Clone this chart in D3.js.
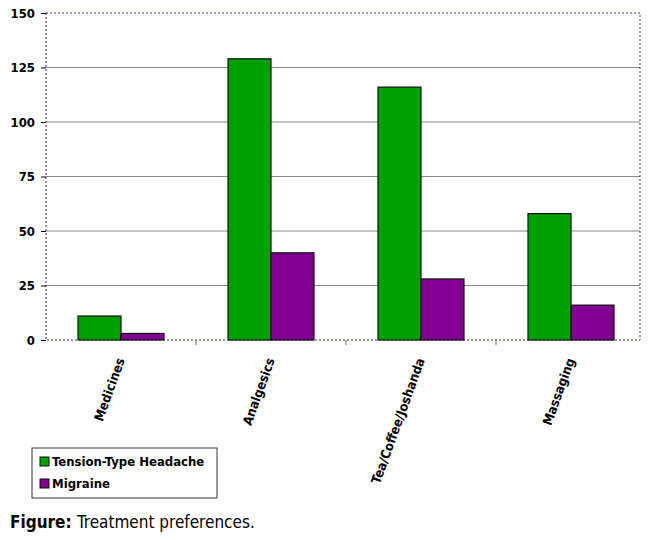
<!DOCTYPE html>
<html><head><meta charset="utf-8">
<script src="https://cdn.jsdelivr.net/npm/d3@7"></script>
<style>body{margin:0;background:#fff}</style>
</head><body>
<script>
const categories = ["Medicines", "Analgesics", "Tea/Coffee/Joshanda", "Massaging"];
const seriesNames = ["Tension-Type Headache", "Migraine"];
const tensionValues = [11, 129, 116, 58];
const migraineValues = [3, 40, 28, 16];
const yTicks = [0, 25, 50, 75, 100, 125, 150];
const colors = ["#00a000", "#800090"];

const svg = d3.select("body").append("svg").attr("width", 650).attr("height", 540);
const plotLeft = 46, plotRight = 640, plotTop = 13, plotBottom = 340;

const x = d3.scaleBand().domain(categories).range([plotLeft, plotLeft + 600]);
const xs = d3.scaleBand().domain(seriesNames).range([32, 118]);
const y = d3.scaleLinear().domain([0, 150]).range([plotBottom, plotTop]);
const font = "'DejaVu Sans Condensed', 'DejaVu Sans', sans-serif";

// gridlines
svg.append("g").selectAll("line").data(yTicks.slice(1, -1)).enter().append("line")
    .attr("x1", plotLeft).attr("x2", plotRight)
    .attr("y1", d => y(d)).attr("y2", d => y(d))
    .attr("stroke", "#888").attr("stroke-width", 1.2);

// frame
svg.append("rect").attr("x", plotLeft).attr("y", plotTop)
    .attr("width", plotRight - plotLeft).attr("height", plotBottom - plotTop)
    .attr("fill", "none").attr("stroke", "#3030a0").attr("stroke-dasharray", "2,2");

// y axis
const yAxis = svg.append("g").attr("transform", "translate(" + plotLeft + ",0)")
    .call(d3.axisLeft(y).tickValues(yTicks).tickSize(5).tickPadding(6));
yAxis.select(".domain").remove();
yAxis.selectAll("text").style("font-family", font).style("font-weight", "bold").style("font-size", "13px");

// category boundary ticks
svg.append("g").selectAll("line").data(categories.slice(1)).enter().append("line")
    .attr("x1", d => x(d)).attr("x2", d => x(d))
    .attr("y1", plotBottom).attr("y2", plotBottom + 5).attr("stroke", "#666");

const rows = categories.map((c, i) => ({cat: c, vals: [tensionValues[i], migraineValues[i]]}));
svg.append("g").selectAll("g").data(rows).enter().append("g")
    .attr("transform", d => "translate(" + x(d.cat) + ",0)")
    .selectAll("rect")
    .data(d => d.vals.map((v, i) => ({key: seriesNames[i], value: v, i: i})))
    .enter().append("rect")
    .attr("x", d => xs(d.key))
    .attr("y", d => y(d.value))
    .attr("width", xs.bandwidth())
    .attr("height", d => plotBottom - y(d.value))
    .attr("fill", d => colors[d.i])
    .attr("stroke", "#111").attr("stroke-width", 1.2);

// category labels
svg.append("g").selectAll("text").data(categories).enter().append("text")
    .attr("transform", d => "translate(" + (x(d) + x.bandwidth() / 2 + 4) + "," + (plotBottom + 20) + ") rotate(-70)")
    .attr("text-anchor", "end")
    .style("font-family", font).style("font-weight", "bold").style("font-size", "13px")
    .text(d => d);

// legend
const lg = svg.append("g").attr("transform", "translate(32,448)");
lg.append("rect").attr("width", 185).attr("height", 50).attr("fill", "#fff").attr("stroke", "#333");
seriesNames.forEach((s, i) => {
    lg.append("rect").attr("x", 8).attr("y", 9 + i * 22).attr("width", 9).attr("height", 9)
        .attr("fill", colors[i]).attr("stroke", "#111");
    lg.append("text").attr("x", 20).attr("y", 18 + i * 22)
        .style("font-family", font).style("font-weight", "bold").style("font-size", "13px")
        .text(s);
});

// caption
const cap = svg.append("text").attr("x", 10).attr("y", 528)
    .style("font-family", "'Liberation Sans Narrow', 'DejaVu Sans Condensed', sans-serif").style("font-size", "17px");
cap.append("tspan").style("font-weight", "bold").text("Figure: ");
cap.append("tspan").text("Treatment preferences.");
</script>
</body></html>
